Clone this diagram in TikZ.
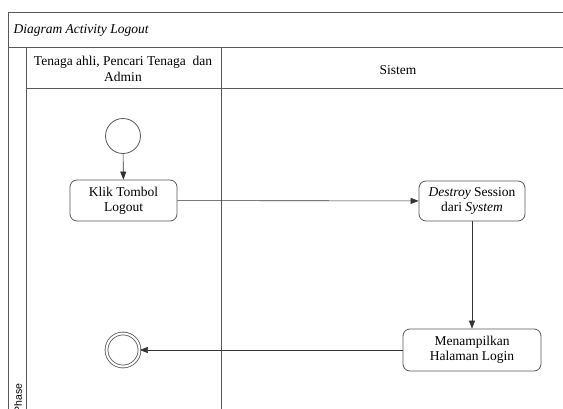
\documentclass[tikz,border=0pt]{standalone}
\usepackage{fontspec}
\setmainfont{Liberation Serif}
\setsansfont{Liberation Sans}
\usetikzlibrary{arrows.meta}
\definecolor{linegray}{gray}{0.35}
\begin{document}
\begin{tikzpicture}[x=1pt,y=-1pt,
  frame/.style={draw=linegray,line width=0.8pt},
  action/.style={draw=linegray,line width=0.8pt,rounded corners=7pt,align=center,
    font=\fontsize{13.5}{15}\selectfont,inner sep=0pt},
  flow/.style={draw=black!80,line width=0.6pt,-{Triangle[length=8pt,width=6pt]}},
  startnode/.style={circle,draw=linegray,line width=0.8pt,minimum size=35pt,inner sep=0pt},
  endnode/.style={circle,draw=linegray,line width=0.8pt,double=white,double distance=2pt,minimum size=33pt,inner sep=0pt},
  lanetext/.style={align=center,font=\fontsize{13.5}{15.5}\selectfont}]
\useasboundingbox (0,0) rectangle (563,408);
\clip (0,0) rectangle (563,408);
\fill[white] (0,0) rectangle (563,408);
% swimlane frame
\draw[frame] (8,430) -- (8,12) -- (600,12);
\draw[frame] (8,47) -- (600,47);
\draw[frame] (26,88) -- (600,88);
\draw[frame] (26,47) -- (26,430);
\draw[frame] (221,47) -- (221,430);
\node[anchor=west,font=\fontsize{13.5}{15}\selectfont\itshape] (title) at (10,30) {Diagram Activity Logout};
\node[lanetext] (lane1) at (123,69) {Tenaga ahli, Pencari Tenaga\ \ dan\\Admin};
\node[lanetext] (lane2) at (398,70) {Sistem};
\node[rotate=90,anchor=west,font=\sffamily\fontsize{10.5}{11}\selectfont] (phase) at (18,417) {Phase};
% activity nodes
\node[startnode] (start) at (123,136) {};
\node[action,minimum width=107pt,minimum height=41pt] (klik) at (123.5,200.5) {Klik Tombol\\Logout};
\node[action,minimum width=106pt,minimum height=40pt] (destroy) at (472,201) {\textit{Destroy} Session\\dari \textit{System}};
\node[action,minimum width=138pt,minimum height=42pt] (tampil) at (472,350) {Menampilkan\\Halaman Login};
\node[endnode] (finish) at (123,350) {};
% control flows
\draw[flow] (start) -- (klik);
\draw[flow] (klik) -- (destroy);
\draw[flow] (destroy) -- (tampil);
\draw[flow] (tampil) -- (finish);
\end{tikzpicture}
\end{document}
